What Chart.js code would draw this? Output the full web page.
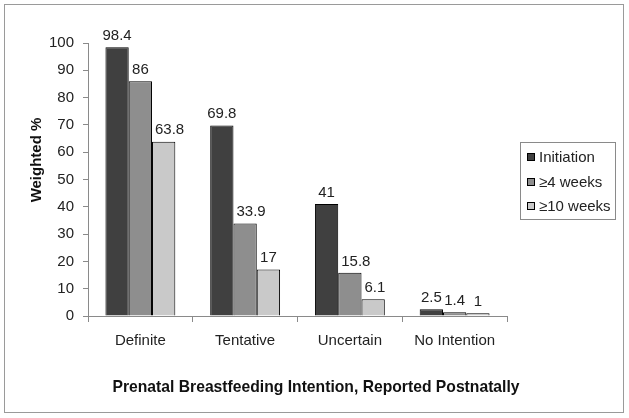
<!DOCTYPE html>
<html>
<head>
<meta charset="utf-8">
<script src="https://cdn.jsdelivr.net/npm/chart.js@4"></script>
<style>
  html, body { margin: 0; padding: 0; background: #fff; }
  #wrap { width: 629px; height: 418px; }
</style>
</head>
<body>
<div id="wrap"><canvas id="myChart" width="629" height="418"></canvas></div>
<script>
// data
const categories = ["Definite", "Tentative", "Uncertain", "No Intention"];
const initiation = [98.4, 69.8, 41, 2.5];
const fourWeeks = [86, 33.9, 15.8, 1.4];
const tenWeeks = [63.8, 17, 6.1, 1];
const seriesNames = ["Initiation", "\u22654 weeks", "\u226510 weeks"];
const xTitle = "Prenatal Breastfeeding Intention, Reported Postnatally";
const yTitle = "Weighted %";

const FONT = "'Liberation Sans', Arial, sans-serif";
const axisGray = "#8a8a8a";

// frame around whole picture
const framePlugin = {
  id: 'frame',
  beforeDraw(chart) {
    const ctx = chart.ctx;
    ctx.save();
    ctx.fillStyle = "#fff";
    ctx.fillRect(0, 0, chart.width, chart.height);
    ctx.strokeStyle = "#9a9a9a";
    ctx.lineWidth = 1;
    ctx.strokeRect(4.5, 4.5, 619, 408);
    ctx.restore();
  }
};

// axis titles (placed like the original, a bit off the scale centres)
const axisTitles = {
  id: 'axisTitles',
  afterDraw(chart) {
    const ctx = chart.ctx;
    ctx.save();
    ctx.fillStyle = "#111";
    ctx.font = "bold 15.7px " + FONT;
    ctx.textAlign = "center";
    ctx.textBaseline = "alphabetic";
    ctx.fillText(xTitle, 316, 392);
    ctx.font = "bold 15px " + FONT;
    ctx.translate(41, 160);
    ctx.rotate(-Math.PI / 2);
    ctx.fillText(yTitle, 0, 0);
    ctx.restore();
  }
};

// value labels above the bars, nudged right when a taller neighbour is in the way
const valueLabels = {
  id: 'valueLabels',
  afterDatasetsDraw(chart) {
    const ctx = chart.ctx;
    ctx.save();
    ctx.font = "15px " + FONT;
    ctx.fillStyle = "#222";
    ctx.textAlign = "center";
    ctx.textBaseline = "bottom";
    chart.data.datasets.forEach((ds, i) => {
      chart.getDatasetMeta(i).data.forEach((bar, j) => {
        const txt = String(ds.data[j]);
        const w = ctx.measureText(txt).width;
        let x = bar.x;
        const bottom = bar.y - 4;
        if (i > 0) {
          const prev = chart.getDatasetMeta(i - 1).data[j];
          const prevRight = prev.x + prev.width / 2;
          if (prev.y < bottom && x - w / 2 < prevRight + 3) {
            x = prevRight + 3 + w / 2;
          }
        }
        ctx.fillText(txt, x, bottom);
      });
    });
    ctx.restore();
  }
};

// boxed legend on the right
const boxLegend = {
  id: 'boxLegend',
  afterDraw(chart) {
    const ctx = chart.ctx;
    const x0 = 520, y0 = 142, w = 95, h = 77;
    ctx.save();
    ctx.strokeStyle = "#8a8a8a";
    ctx.lineWidth = 1;
    ctx.strokeRect(x0 + 0.5, y0 + 0.5, w, h);
    ctx.font = "15px " + FONT;
    ctx.textBaseline = "middle";
    chart.data.datasets.forEach((ds, i) => {
      const cy = y0 + 15 + i * 24.5;
      ctx.fillStyle = ds.backgroundColor;
      ctx.fillRect(527, Math.round(cy) - 4, 8, 8);
      ctx.strokeStyle = "#000";
      ctx.strokeRect(527.5, Math.round(cy) - 3.5, 7, 7);
      ctx.fillStyle = "#222";
      ctx.fillText(ds.label, 539, cy + 1);
    });
    ctx.restore();
  }
};

const ctx = document.getElementById('myChart');

new Chart(ctx, {
  type: 'bar',
  data: {
    labels: categories,
    datasets: [
      { label: seriesNames[0], data: initiation, backgroundColor: "#404040", borderColor: "#000", borderWidth: 1 },
      { label: seriesNames[1], data: fourWeeks, backgroundColor: "#8e8e8e", borderColor: "#000", borderWidth: 1 },
      { label: seriesNames[2], data: tenWeeks, backgroundColor: "#c9c9c9", borderColor: "#000", borderWidth: 1 }
    ]
  },
  options: {
    responsive: false,
    animation: false,
    devicePixelRatio: 1,
    layout: { padding: { left: 0, top: 43, right: 122, bottom: 0 } },
    datasets: {
      bar: { categoryPercentage: 0.667, barPercentage: 1 }
    },
    scales: {
      x: {
        afterFit(scale) { scale.height = 102; },
        grid: { drawOnChartArea: false, tickLength: 6, color: axisGray },
        border: { color: axisGray },
        ticks: { color: "#222", padding: 10, font: { family: FONT, size: 15 } }
      },
      y: {
        min: 0,
        max: 100,
        afterFit(scale) { scale.width = 88; },
        ticks: { stepSize: 10, color: "#222", padding: 9, font: { family: FONT, size: 15 } },
        grid: { drawOnChartArea: false, tickLength: 5, color: axisGray },
        border: { color: axisGray }
      }
    },
    plugins: {
      legend: { display: false },
      tooltip: { enabled: false }
    }
  },
  plugins: [framePlugin, valueLabels, boxLegend, axisTitles]
});
</script>
</body>
</html>
